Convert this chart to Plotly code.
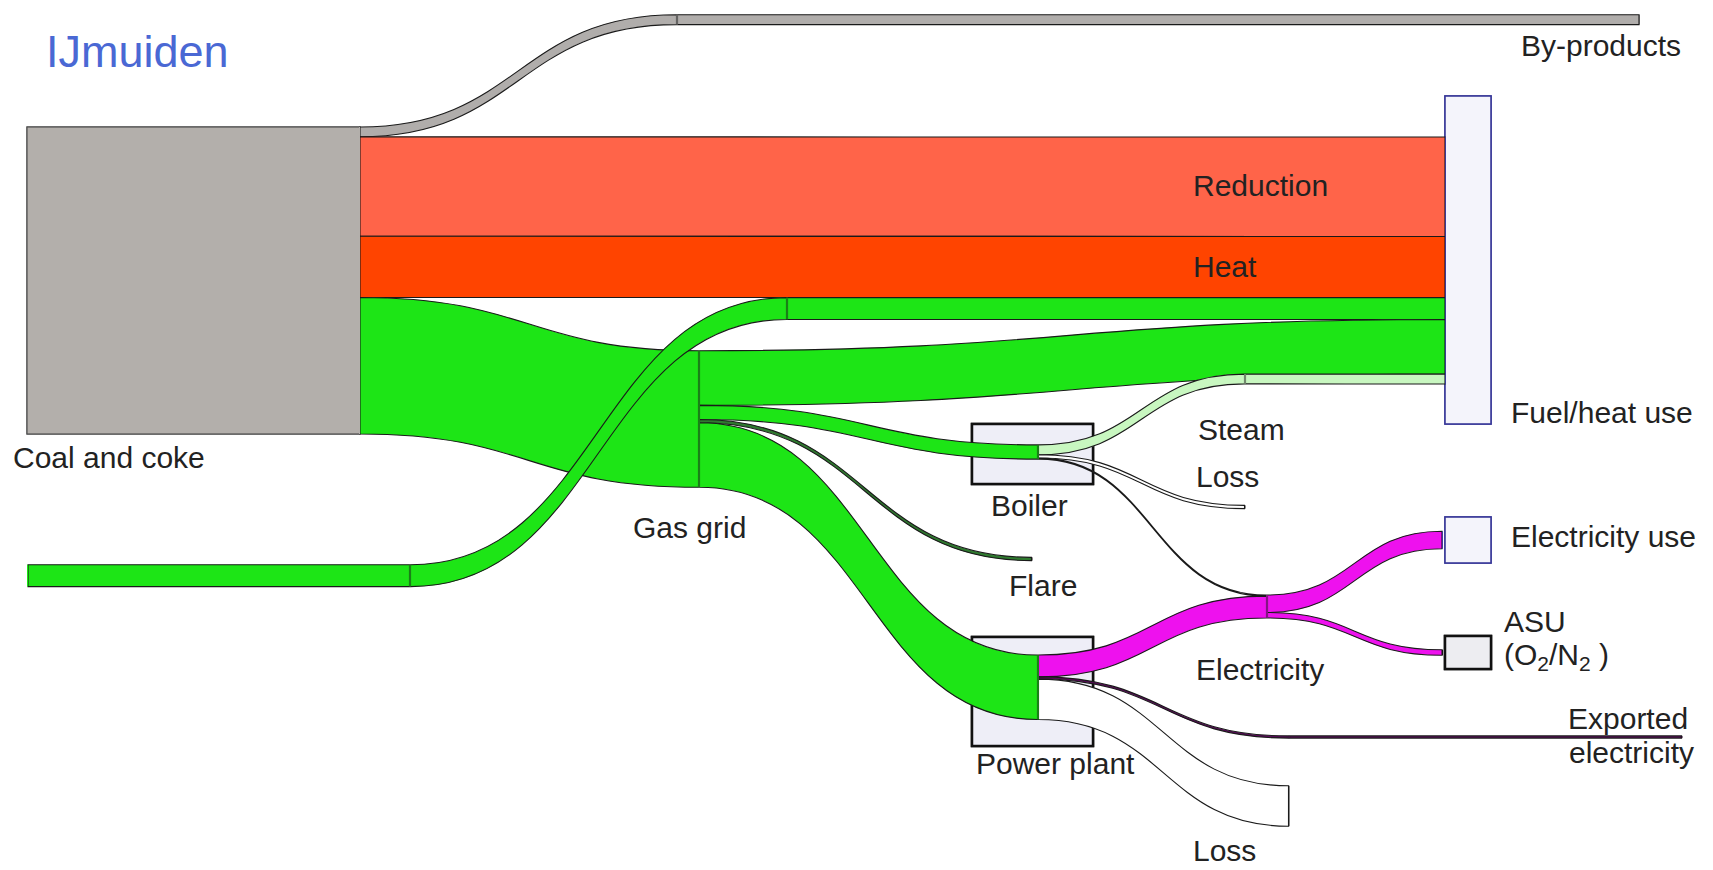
import plotly.graph_objects as go

W, H = 1713, 870

# ---------------- data ----------------
node_names = [
    "Coal and coke", "Natural gas", "Natural gas (route a)", "Natural gas (route b)",
    "Gas grid", "Boiler", "Power plant", "Electricity", "Fuel/heat use",
    "By-products (route)", "By-products", "Flare", "Loss (boiler)", "Loss (power plant)",
    "Steam (route)", "Exported (route)", "Exported electricity", "Electricity use", "ASU (O2/N2)",
]

flow_from = [
    "Coal and coke", "By-products (route)", "Coal and coke", "Coal and coke", "Coal and coke",
    "Natural gas", "Natural gas (route a)", "Natural gas (route b)",
    "Gas grid", "Gas grid", "Gas grid", "Gas grid",
    "Boiler", "Steam (route)", "Boiler", "Boiler",
    "Power plant", "Power plant", "Exported (route)", "Power plant",
    "Electricity", "Electricity",
]
flow_to = [
    "By-products (route)", "By-products", "Fuel/heat use", "Fuel/heat use", "Gas grid",
    "Natural gas (route a)", "Natural gas (route b)", "Fuel/heat use",
    "Fuel/heat use", "Boiler", "Flare", "Power plant",
    "Steam (route)", "Fuel/heat use", "Loss (boiler)", "Electricity",
    "Electricity", "Exported (route)", "Exported electricity", "Loss (power plant)",
    "Electricity use", "ASU (O2/N2)",
]
flow_values = [9, 9, 91, 56, 125, 20, 20, 20, 50, 13, 3, 59, 9, 9, 3, 1, 20, 2, 2, 37, 16, 5]
flow_kinds = [
    "By-products", "By-products", "Reduction", "Heat", "Gas",
    "Gas", "Gas", "Gas",
    "Gas", "Gas", "Flare", "Gas",
    "Steam", "Steam", "Loss", "Loss",
    "Electricity", "Exported", "Exported", "Loss",
    "Electricity", "Electricity",
]

# ---------------- style / layout ----------------
px_per_unit = 1.0925
kind_fill = {
    "By-products": "#b0adab", "Reduction": "#ff6449", "Heat": "#ff4400", "Gas": "#1de516",
    "Flare": "#2f7a2f", "Steam": "#c8f7c0", "Loss": "#ffffff", "Electricity": "#ee11ee",
    "Exported": "#5c0a5c",
}

node_pos_px = {
    "Coal and coke": (359.5, 280.5),
    "Natural gas": (27.5, 575.7),
    "Natural gas (route a)": (410, 575.7),
    "Natural gas (route b)": (787, 308.5),
    "Gas grid": (699, 419.0),
    "Boiler": (1038, 452.0),
    "Power plant": (1038, 687.3),
    "Electricity": (1267, 606.5),
    "Fuel/heat use": (1445.5, 260.5),
    "By-products (route)": (677, 19.7),
    "By-products": (1639.5, 19.7),
    "Flare": (1032, 559),
    "Loss (boiler)": (1245, 507),
    "Loss (power plant)": (1289, 806),
    "Steam (route)": (1245, 379),
    "Exported (route)": (1289, 737),
    "Exported electricity": (1682, 737),
    "Electricity use": (1442.5, 540),
    "ASU (O2/N2)": (1442.5, 652.5),
}
node_fill = {
    "Coal and coke": "#b3afab", "Natural gas": "#1de516", "Natural gas (route a)": "#1de516",
    "Natural gas (route b)": "#1de516", "Gas grid": "#1de516", "Boiler": "#1de516",
    "Power plant": "#1de516", "Electricity": "#ee11ee", "Fuel/heat use": "#3b3b9a",
    "By-products (route)": "#b0adab", "By-products": "#555555", "Flare": "#1a1a1a",
    "Loss (boiler)": "#1a1a1a", "Loss (power plant)": "#1a1a1a", "Steam (route)": "#c8f7c0",
    "Exported (route)": "#5c0a5c", "Exported electricity": "#2a0a2a",
    "Electricity use": "#3b3b9a", "ASU (O2/N2)": "#111111",
}

idx = {n: i for i, n in enumerate(node_names)}
src = [idx[s] for s in flow_from]
tgt = [idx[t] for t in flow_to]

# node padding chosen so the library's own value scale equals px_per_unit
sinks = [n for n in node_names if n not in flow_from]
sink_total = sum(v for t, v in zip(flow_to, flow_values) if t in sinks)
pad = (H - px_per_unit * sink_total) / (len(sinks) - 1)

fig = go.Figure()

# process boxes (drawn underneath the flows); each box is a one-link sankey whose
# two nodes sit on top of each other inside the box's domain
box_values = {n: sum(v for t, v in zip(flow_to, flow_values) if t == n) for n in node_names}
box_values["Coal and coke"] = sum(v for s, v in zip(flow_from, flow_values) if s == "Coal and coke")
boxes = [
    ("Coal and coke", (27, 127, 360, 434), "#b3afab", "#505050", 1.2),
    ("Fuel/heat use", (1445, 96, 1491, 424), "#f4f4fb", "#3b3b9a", 1.6),
    ("Electricity use", (1445, 517, 1491, 563), "#f4f4fb", "#3b3b9a", 1.6),
    ("ASU (O2/N2)", (1445, 636, 1491, 669), "#ededf1", "#111111", 2.5),
    ("Boiler", (972, 424, 1093, 484), "#eeeef7", "#111111", 2.5),
    ("Power plant", (972, 637, 1093, 746), "#eeeef7", "#111111", 2.5),
]
for name, (x0, y0, x1, y1), fill, edge, ew in boxes:
    fig.add_trace(go.Sankey(
        arrangement="fixed",
        domain=dict(x=[(x0 - 2) / W, (x1 + 2) / W], y=[1 - y1 / H, 1 - y0 / H]),
        hoverinfo="skip",
        node=dict(label=["", ""], thickness=x1 - x0, pad=0,
                  x=[0.5, 0.5], y=[0.5, 0.5],
                  color=[fill, fill],
                  line=dict(color=edge, width=ew)),
        link=dict(source=[0], target=[1], value=[box_values[name]],
                  color=[fill], line=dict(width=0)),
    ))

fig.add_trace(go.Sankey(
    arrangement="fixed",
    domain=dict(x=[0, 1], y=[0, 1]),
    node=dict(
        label=[""] * len(node_names),
        customdata=node_names,
        hovertemplate="%{customdata}: %{value}<extra></extra>",
        x=[node_pos_px[n][0] / W for n in node_names],
        y=[node_pos_px[n][1] / H for n in node_names],
        thickness=1,
        pad=pad,
        color=[node_fill[n] for n in node_names],
        line=dict(width=0),
    ),
    link=dict(
        source=src, target=tgt, value=flow_values,
        customdata=flow_kinds,
        hovertemplate="%{customdata}: %{value}<extra></extra>",
        color=[kind_fill[k] for k in flow_kinds],
        line=dict(color="#1a1a1a", width=1.1),
    ),
))

# ---------------- labels ----------------
FONT = "Liberation Sans, Arial, sans-serif"
labels = [
    ("By-products", 1683, 46, "right"),
    ("Reduction", 1191, 185, "left"),
    ("Heat", 1191, 266, "left"),
    ("Fuel/heat use", 1509, 412, "left"),
    ("Steam", 1196, 430, "left"),
    ("Loss", 1194, 476, "left"),
    ("Boiler", 989, 505, "left"),
    ("Coal and coke", 11, 457, "left"),
    ("Gas grid", 631, 527, "left"),
    ("Electricity use", 1509, 536, "left"),
    ("Flare", 1007, 585, "left"),
    ("ASU", 1502, 621, "left"),
    ("(O<sub>2</sub>/N<sub>2</sub> )", 1502, 656, "left"),
    ("Electricity", 1194, 669, "left"),
    ("Exported", 1690, 718, "right"),
    ("electricity", 1696, 752, "right"),
    ("Power plant", 974, 763, "left"),
    ("Loss", 1191, 850, "left"),
]
annotations = [
    dict(text=t, x=x / W, y=1 - y / H, xref="paper", yref="paper", xanchor=a, yanchor="middle",
         showarrow=False, font=dict(family=FONT, size=30, color="#222222"))
    for t, x, y, a in labels
]
annotations.append(dict(text="IJmuiden", x=44 / W, y=1 - 52 / H, xref="paper", yref="paper",
                        xanchor="left", yanchor="middle", showarrow=False,
                        font=dict(family=FONT, size=45, color="#4a68d4")))

fig.update_layout(
    width=W, height=H, margin=dict(l=0, r=0, t=0, b=0),
    paper_bgcolor="white", plot_bgcolor="white",
    annotations=annotations, showlegend=False,
)

fig.write_html("out.html", config={"displayModeBar": False},
               post_script="document.body.style.margin='0';")
